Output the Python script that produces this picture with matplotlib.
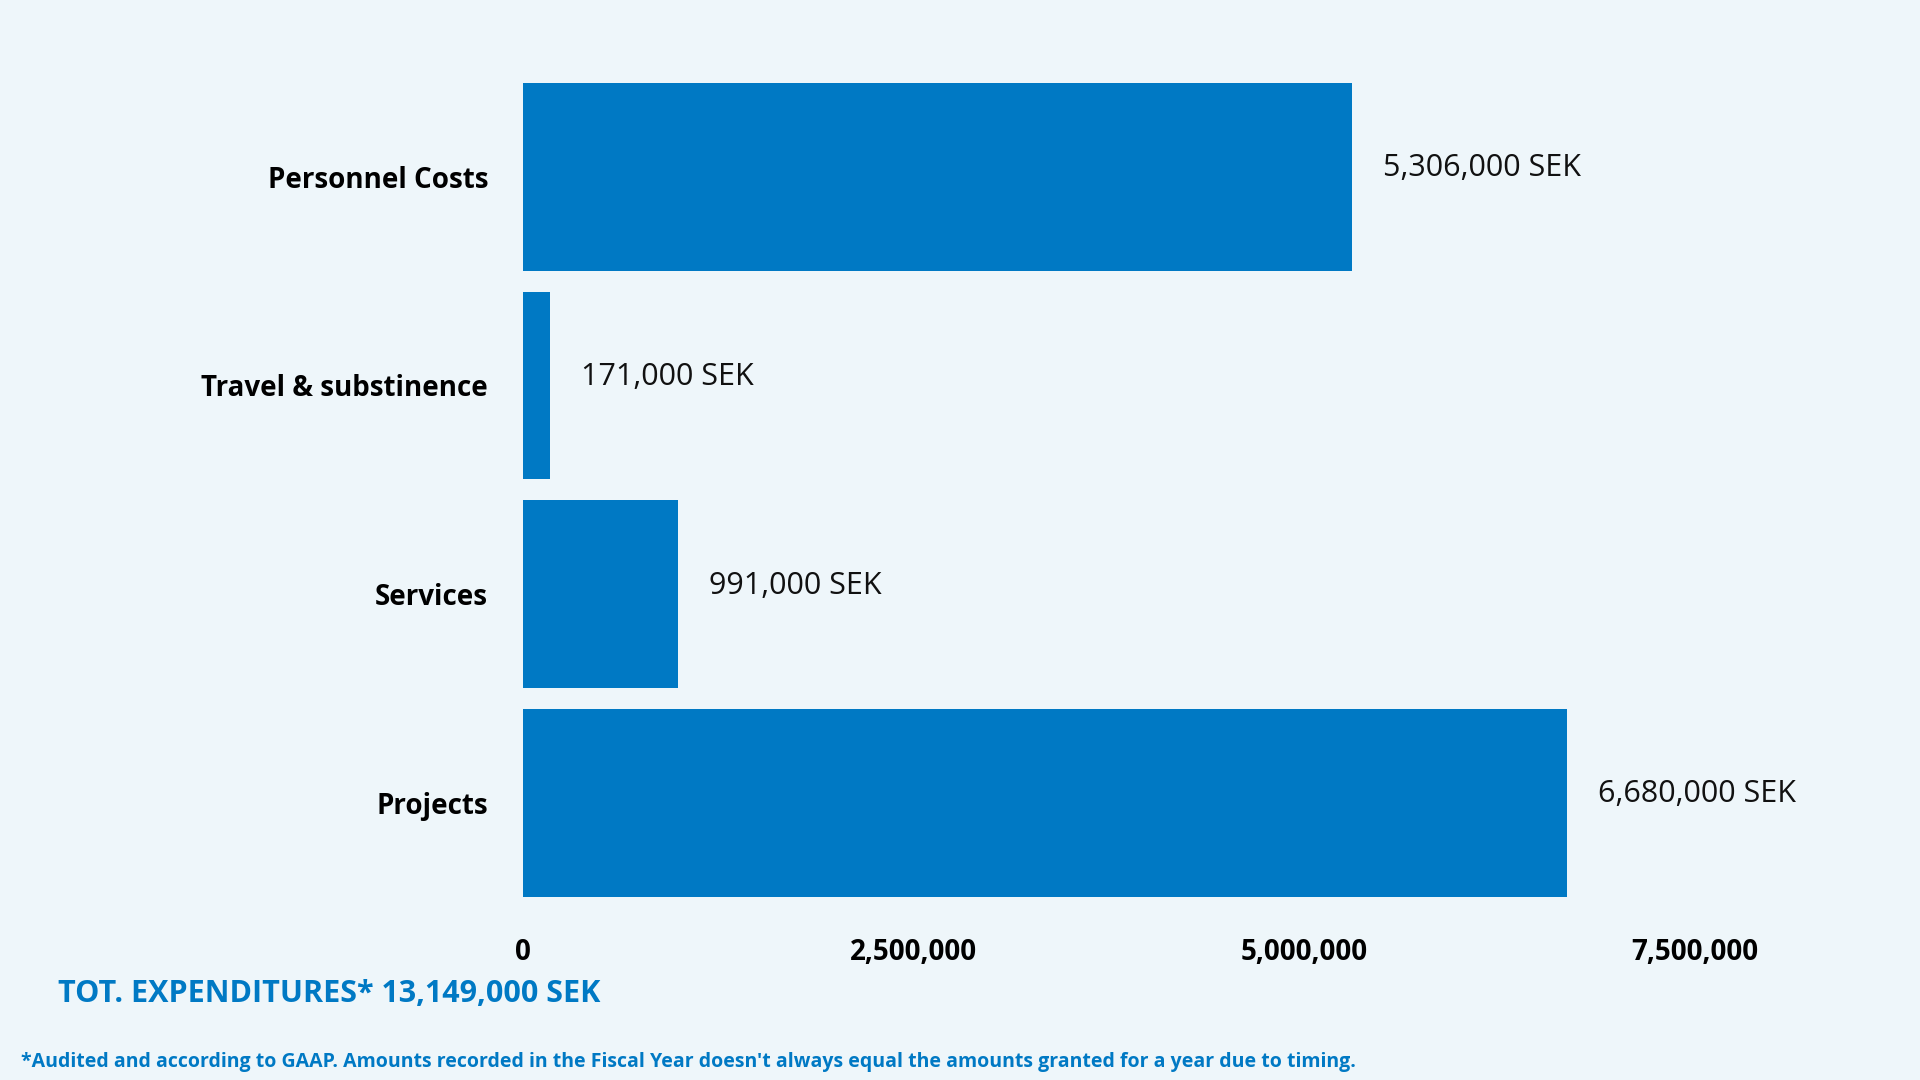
import matplotlib.pyplot as plt
from matplotlib.ticker import FuncFormatter

categories = ["Personnel Costs", "Travel & substinence", "Services", "Projects"]
values = [5306000, 171000, 991000, 6680000]
value_labels = ["5,306,000 SEK", "171,000 SEK", "991,000 SEK", "6,680,000 SEK"]
ticks = [0, 2500000, 5000000, 7500000]

bg = "#EEF6FA"
blue = "#0079C4"
plt.rcParams['font.family'] = ['Open Sans', 'DejaVu Sans']

fig = plt.figure(figsize=(19.2, 10.8), dpi=100, facecolor=bg)
ax = fig.add_axes([0.2723, 0.160, 0.708, 0.773], facecolor=bg)

ypos = list(range(len(categories)))
ax.barh(ypos, values, height=0.9, color=blue)
ax.set_ylim(len(categories) - 0.5, -0.5)
ax.set_xlim(0, 8700000)

for y, v, lab in zip(ypos, values, value_labels):
    ax.text(v + 200000, y - 0.04, lab, va="center", ha="left", fontsize=22, color="#111111")

ax.set_yticks(ypos)
ax.set_yticklabels(categories, fontsize=20, fontweight="bold")
ax.set_xticks(ticks)
ax.xaxis.set_major_formatter(FuncFormatter(lambda x, p: f"{int(x):,}"))
for t in ax.get_xticklabels():
    t.set_fontsize(20)
    t.set_fontweight("bold")
ax.tick_params(length=0, pad=22)
ax.tick_params(axis="y", pad=25)
for s in ax.spines.values():
    s.set_visible(False)

fig.text(0.030, 0.080, "TOT. EXPENDITURES* 13,149,000 SEK", fontsize=22, fontweight="bold", color=blue, va="center")
fig.text(0.011, 0.017, "*Audited and according to GAAP. Amounts recorded in the Fiscal Year doesn't always equal the amounts granted for a year due to timing.",
         fontsize=14, fontweight="bold", color=blue, va="center")

fig.savefig("out.png", dpi=100, facecolor=bg)
